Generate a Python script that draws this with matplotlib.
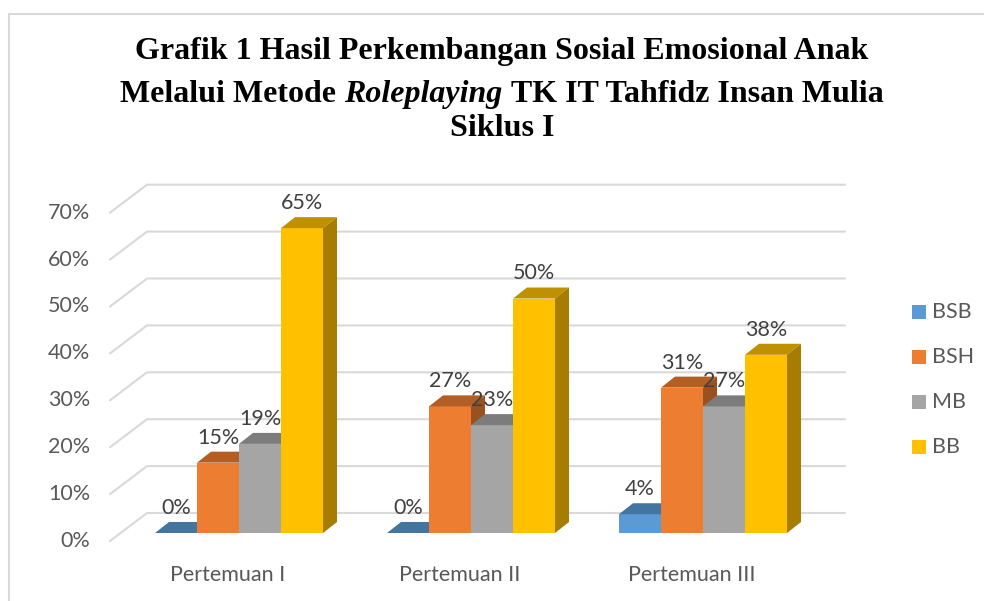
import matplotlib
matplotlib.use('Agg')
import matplotlib.pyplot as plt
from matplotlib.patches import Polygon, Rectangle
from matplotlib.colors import to_rgb

categories = ['Pertemuan I', 'Pertemuan II', 'Pertemuan III']
series = ['BSB', 'BSH', 'MB', 'BB']
bsb = [0, 0, 4]
bsh = [15, 27, 31]
mb = [19, 23, 27]
bb = [65, 50, 38]
colors = ['#5B9BD5', '#ED7D31', '#A5A5A5', '#FFC000']
y_ticks = [0, 10, 20, 30, 40, 50, 60, 70]

W, H = 984, 601
fig = plt.figure(figsize=(W / 100, H / 100), dpi=100)
ax = fig.add_axes([0, 0, 1, 1])

# pixel geometry of the fake 3D scene: group spacing and px per percent
GX, GY = 232.0, 4.69
X0, Y0 = 239.0, 533.0
ax.set_xlim(-X0 / GX, (W - X0) / GX)
ax.set_ylim((Y0 - H) / GY, Y0 / GY)
ax.axis('off')


def dx(p):
    return p / GX


def dy(p):
    return p / GY


def xpx(p):
    return (p - X0) / GX


def ypx(p):
    return (Y0 - p) / GY


label_font = dict(family='Lato', size=15.5)
bar_w = dx(42)
depth_x, depth_y = dx(14), dy(11)

# frame of the chart area
ax.plot([xpx(8.5), xpx(8.5), xpx(984)], [ypx(601), ypx(14), ypx(14)],
        color='#D9D9D9', lw=1.5, solid_capstyle='butt', clip_on=False)

# gridlines: front floor edge -> back wall -> right end
for v in y_ticks:
    ax.plot([xpx(110), xpx(147), xpx(845)],
            [v - dy(8), v + dy(20), v + dy(20)],
            color='#D9D9D9', lw=1.5, zorder=1, solid_capstyle='round')
    ax.text(xpx(90), v - dy(8), f'{v}%', ha='right', va='center',
            color='#595959', **label_font)

values = [bsb, bsh, mb, bb]
for j, (vals, col) in enumerate(zip(values, colors)):
    rgb = to_rgb(col)
    top_c = tuple(c * 0.75 for c in rgb)
    side_c = tuple(c * 0.65 for c in rgb)
    lefts = [i - 2 * bar_w + j * bar_w for i in range(len(categories))]
    z = 2 + j * 3
    ax.bar(lefts, vals, width=bar_w, align='edge', color=col, zorder=z,
           linewidth=0)
    for x, v in zip(lefts, vals):
        r = x + bar_w
        ax.add_patch(Polygon([(x, v), (r, v), (r + depth_x, v + depth_y),
                              (x + depth_x, v + depth_y)],
                             closed=True, facecolor=top_c, lw=0, zorder=z + 1))
        ax.add_patch(Polygon([(r, 0), (r + depth_x, depth_y),
                              (r + depth_x, v + depth_y), (r, v)],
                             closed=True, facecolor=side_c, lw=0, zorder=z + 1))
        ax.text(x + bar_w / 2, v + dy(25), f'{v}%', ha='center', va='center',
                color='#404040', zorder=30, **label_font)

for i, cat in enumerate(categories):
    ax.text(i - dx(11), ypx(575), cat, ha='center', va='center',
            color='#595959', **label_font)

# legend
for k, (name, col) in enumerate(zip(series, colors)):
    yc = 312 + 45 * k
    ax.add_patch(Rectangle((xpx(912), ypx(yc + 7)), dx(14), dy(14),
                           facecolor=col, lw=0, clip_on=False))
    ax.text(xpx(932), ypx(yc), name, ha='left', va='center',
            color='#595959', **label_font)

# title, second line mixes upright and italic
title_kw = dict(family='Liberation Serif', weight='bold', size=23,
                color='black')
cx = 502 / W
fig.text(cx, 1 - 52 / H, 'Grafik 1 Hasil Perkembangan Sosial Emosional Anak',
         ha='center', va='center', **title_kw)
fig.text(cx, 1 - 128 / H, 'Siklus I', ha='center', va='center', **title_kw)

renderer = fig.canvas.get_renderer()
parts = [('Melalui Metode', 'normal'), ('Roleplaying', 'italic'),
         ('TK IT Tahfidz Insan Mulia', 'normal')]
probe1 = fig.text(0, 0, 'MM', **title_kw)
probe2 = fig.text(0, 0, 'M M', **title_kw)
gap = (probe2.get_window_extent(renderer).width
       - probe1.get_window_extent(renderer).width)
probe1.remove()
probe2.remove()
pieces = [fig.text(0, 1 - 91 / H, s, style=st, ha='left', va='center_baseline',
                   **title_kw) for s, st in parts]
widths = [t.get_window_extent(renderer).width for t in pieces]
x = cx * W - (sum(widths) + gap * (len(widths) - 1)) / 2
for t, wd in zip(pieces, widths):
    t.set_x(x / W)
    x += wd + gap

fig.savefig('out.png', dpi=100)
plt.close(fig)
